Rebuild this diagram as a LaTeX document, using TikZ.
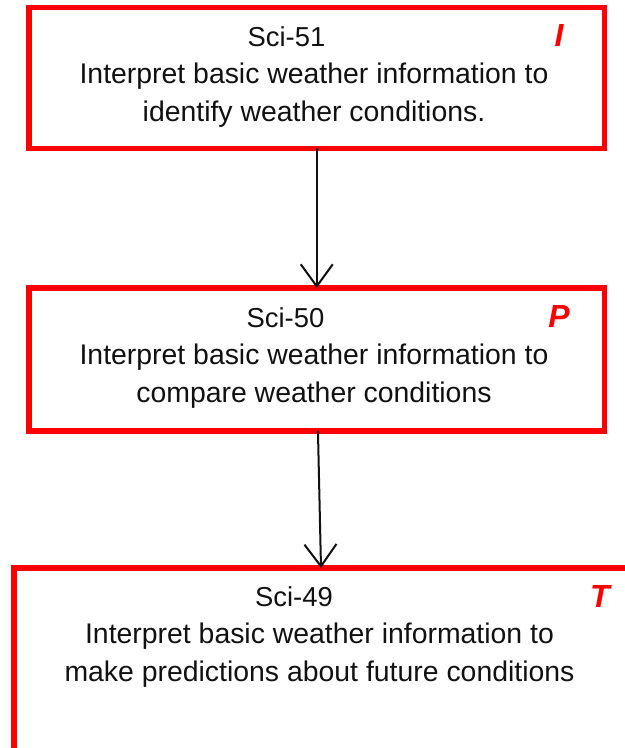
\documentclass[tikz,border=0pt]{standalone}
\usepackage{fontspec}
\setmainfont{Liberation Sans}
\usetikzlibrary{arrows.meta}
\definecolor{boxred}{HTML}{FF0000}
\definecolor{ink}{HTML}{111111}
\begin{document}
\begin{tikzpicture}[x=0.5pt,y=-0.5pt,
  box/.style={draw=boxred, line width=2.75pt, inner sep=0pt, outer sep=0pt},
  code/.style={font=\fontsize{13.7pt}{18.75pt}\selectfont, anchor=base, inner sep=0pt, text=ink},
  txt/.style={font=\fontsize{14.2pt}{18.75pt}\selectfont, anchor=base, inner sep=0pt, text=ink},
  tag/.style={font=\fontsize{16pt}{18pt}\selectfont\bfseries\itshape, anchor=base, inner sep=0pt, text=boxred},
  link/.style={line width=1pt, draw=ink, -{Straight Barb[length=11pt,width=16pt]}}]
\useasboundingbox (0,0) rectangle (625,748);
\clip (0,0) rectangle (625,748);

% boxes
\node[box, minimum width=287.75pt, minimum height=70.5pt] (b1) at (316.75,78) {};
\node[box, minimum width=287.75pt, minimum height=71.5pt] (b2) at (316.75,359.5) {};
\node[box, minimum width=309pt, minimum height=132pt] (b3) at (323,700) {};

% box 1 text
\node[code] (c1) at (286.5,46.5) {Sci-51};
\node[txt] (d1a) at (314,84) {Interpret basic weather information to};
\node[txt] (d1b) at (314,121.5) {identify weather conditions.};
\node[tag] (t1) at (559,47) {I};

% box 2 text
\node[code] (c2) at (285.5,327) {Sci-50};
\node[txt] (d2a) at (314,364.5) {Interpret basic weather information to};
\node[txt] (d2b) at (314,402) {compare weather conditions};
\node[tag] (t2) at (559,327) {P};

% box 3 text
\node[code] (c3) at (294,606) {Sci-49};
\node[txt] (d3a) at (319.5,643.5) {Interpret basic weather information to};
\node[txt] (d3b) at (319.5,681) {make predictions about future conditions};
\node[tag] (t3) at (600,607) {T};

% connectors
\draw[link] (b1.south) -- (b2.north);
\draw[link] ([xshift=0.6pt]b2.south) -- ([xshift=-1pt]b3.north);
\end{tikzpicture}
\end{document}
